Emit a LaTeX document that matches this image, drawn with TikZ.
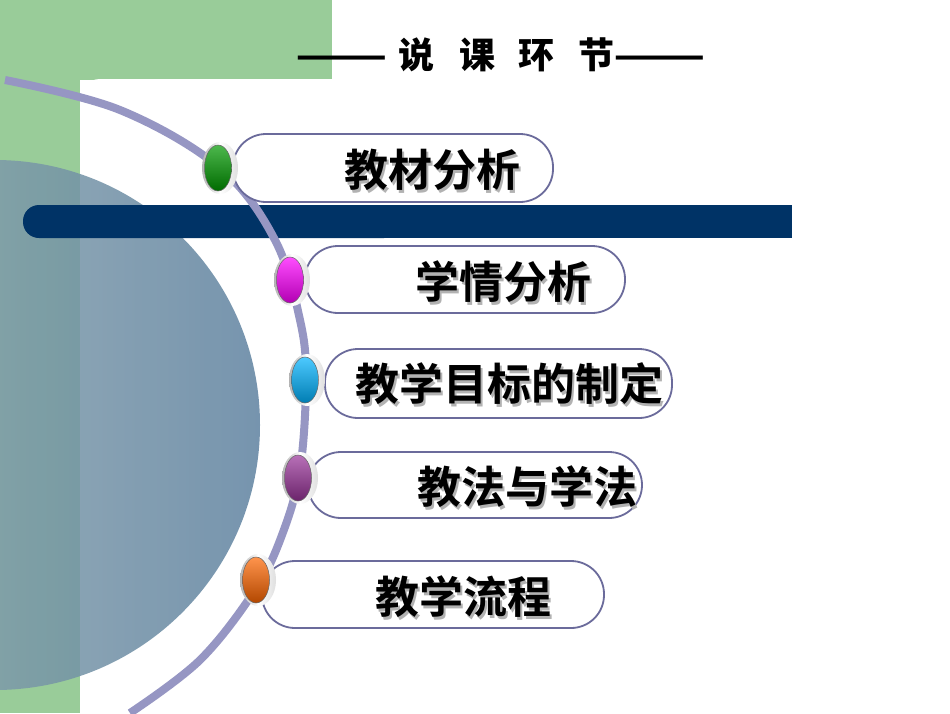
\documentclass[tikz,border=0pt]{standalone}
\usepackage{fontspec}
\newfontfamily\cjk{Noto Sans CJK SC}
\newfontfamily\cjkb{Noto Sans CJK SC Bold}
\usetikzlibrary{shapes.geometric,shadings}
\definecolor{grn}{HTML}{99CC99}
\definecolor{navy}{HTML}{003366}
\definecolor{pillc}{HTML}{6B6B9B}
\tikzset{
 pill/.style={draw=pillc,line width=1.8pt,rounded corners=33pt,fill=white},
 ttl/.style={font=\cjkb\fontsize{44}{44}\selectfont},
}
\newcommand{\shtext}[3]{%
 \node[ttl,text=gray!60] at ([xshift=2.5pt,yshift=-2.5pt]#1) {#3};
 \node[ttl] (#2) at (#1) {#3};}
\newcommand{\bul}[3]{%
 \node[ellipse,minimum width=36pt,minimum height=52pt,inner sep=0,shade,left color=gray!60,right color=gray!25,middle color=white] (#2) at (#1) {};
 \node[ellipse,minimum width=27pt,minimum height=46pt,inner sep=0,shade,top color=#3!70!white,bottom color=#3!70!black,draw=black!60,line width=0.5pt] at ([xshift=-2pt]#1) {};}
\begin{document}
\begin{tikzpicture}[x=1pt,y=-1pt]
\useasboundingbox (0,0) rectangle (950,713);
\fill[white] (0,0) rectangle (950,713);
\fill[grn] (0,0) rectangle (332,80);
\fill[grn] (0,0) rectangle (80,713);
\fill[white,rounded corners=20pt] (80,79) rectangle (960,730);
\begin{scope}
\clip (0,0) rectangle (950,713);
\shade[left color=teal!30!gray!60, right color={rgb,255:red,95;green,130;blue,160},opacity=0.85] (-5,425) circle (265);
\end{scope}
\fill[navy,rounded corners=16pt] (23,205) rectangle (400,238);
\fill[navy] (300,205) rectangle (792,238);
\draw[line width=8pt,color={rgb,255:red,150;green,150;blue,195}] plot[smooth,tension=0.6] coordinates {(5,80) (120,110) (220,168) (275,240) (300,320) (306,380) (300,470) (282,535) (255,590) (200,660) (130,713)};
\node[font=\cjk\bfseries\fontsize{36}{36}\selectfont] (hdr) at (501,55) {———\,\,说\,\,\,\,课\,\,\,\,环\,\,\,\,节———};
\draw[pill] (233,134) rectangle (553,202);
\draw[pill] (305,246) rectangle (625,313);
\draw[pill] (325,349) rectangle (672,418);
\draw[pill] (308,452) rectangle (642,518);
\draw[pill] (262,561) rectangle (604,628);
\bul{220,168}{b1}{green!60!black}
\bul{292,280}{b2}{magenta}
\bul{307,380}{b3}{cyan!70!blue}
\bul{300,478}{b4}{violet!80!white}
\bul{258,580}{b5}{orange!80!red}
\shtext{432,170}{t1}{教材分析}
\shtext{503,282}{t2}{学情分析}
\shtext{509,384}{t3}{教学目标的制定}
\shtext{527,487}{t4}{教法与学法}
\shtext{463,597}{t5}{教学流程}
\end{tikzpicture}
\end{document}
